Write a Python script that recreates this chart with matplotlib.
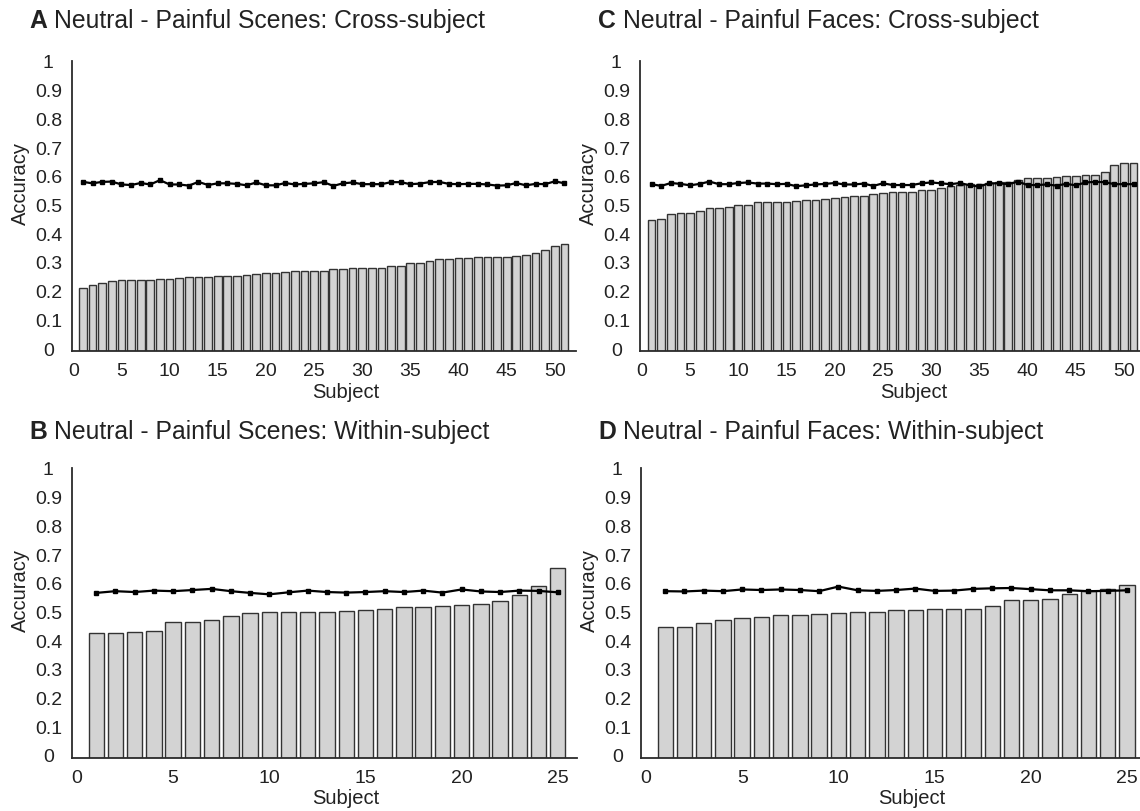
import matplotlib
matplotlib.use("Agg")
import matplotlib.pyplot as plt
import matplotlib.transforms as mtransforms
import numpy as np

plt.rcParams['font.family'] = ['Liberation Sans', 'DejaVu Sans']

# ---------------- data ----------------
subjects_cross = list(range(1, 52))
subjects_within = list(range(1, 26))

scenes_cross_acc = [0.218, 0.230, 0.237, 0.244, 0.247, 0.247, 0.249, 0.249, 0.250, 0.252,
                    0.254, 0.258, 0.258, 0.259, 0.261, 0.261, 0.262, 0.266, 0.267, 0.273,
                    0.273, 0.275, 0.278, 0.279, 0.280, 0.280, 0.285, 0.287, 0.288, 0.290,
                    0.290, 0.290, 0.297, 0.297, 0.305, 0.305, 0.314, 0.321, 0.321, 0.324,
                    0.324, 0.326, 0.328, 0.329, 0.329, 0.331, 0.336, 0.341, 0.353, 0.367, 0.372]
scenes_cross_chance = [0.589, 0.584, 0.589, 0.590, 0.580, 0.578, 0.585, 0.580, 0.595, 0.580,
                       0.580, 0.576, 0.589, 0.578, 0.584, 0.584, 0.582, 0.577, 0.587, 0.577,
                       0.577, 0.585, 0.580, 0.582, 0.584, 0.588, 0.575, 0.584, 0.587, 0.581,
                       0.581, 0.581, 0.588, 0.588, 0.581, 0.583, 0.588, 0.589, 0.582, 0.581,
                       0.582, 0.582, 0.580, 0.576, 0.577, 0.585, 0.577, 0.582, 0.581, 0.591, 0.584]

faces_cross_acc = [0.456, 0.460, 0.477, 0.479, 0.482, 0.487, 0.497, 0.498, 0.503, 0.510,
                   0.510, 0.518, 0.518, 0.520, 0.520, 0.523, 0.525, 0.525, 0.528, 0.532,
                   0.537, 0.541, 0.541, 0.546, 0.551, 0.553, 0.553, 0.555, 0.559, 0.561,
                   0.567, 0.573, 0.578, 0.581, 0.583, 0.584, 0.587, 0.589, 0.596, 0.602,
                   0.603, 0.604, 0.605, 0.609, 0.610, 0.613, 0.613, 0.624, 0.649, 0.655, 0.656]
faces_cross_chance = [0.581, 0.575, 0.585, 0.582, 0.577, 0.582, 0.590, 0.581, 0.581, 0.585,
                      0.587, 0.583, 0.583, 0.581, 0.582, 0.574, 0.577, 0.580, 0.582, 0.585,
                      0.580, 0.580, 0.583, 0.575, 0.584, 0.578, 0.578, 0.578, 0.584, 0.587,
                      0.584, 0.581, 0.585, 0.577, 0.573, 0.584, 0.584, 0.581, 0.590, 0.578,
                      0.578, 0.580, 0.576, 0.582, 0.577, 0.587, 0.589, 0.588, 0.581, 0.581, 0.581]

scenes_within_acc = [0.434, 0.437, 0.438, 0.443, 0.472, 0.472, 0.481, 0.494, 0.504, 0.509,
                     0.509, 0.509, 0.509, 0.512, 0.516, 0.519, 0.526, 0.527, 0.528, 0.532,
                     0.535, 0.547, 0.566, 0.598, 0.662]
scenes_within_chance = [0.575, 0.581, 0.578, 0.583, 0.581, 0.585, 0.589, 0.581, 0.575, 0.570,
                        0.577, 0.583, 0.578, 0.576, 0.578, 0.581, 0.578, 0.583, 0.576, 0.587,
                        0.580, 0.578, 0.583, 0.582, 0.577]

faces_within_acc = [0.455, 0.456, 0.469, 0.479, 0.489, 0.491, 0.498, 0.499, 0.501, 0.506,
                    0.508, 0.509, 0.516, 0.516, 0.519, 0.519, 0.519, 0.528, 0.549, 0.552,
                    0.554, 0.570, 0.583, 0.590, 0.602]
faces_within_chance = [0.581, 0.580, 0.583, 0.581, 0.587, 0.585, 0.587, 0.585, 0.581, 0.597,
                       0.584, 0.582, 0.585, 0.590, 0.582, 0.583, 0.589, 0.591, 0.592, 0.588,
                       0.584, 0.584, 0.581, 0.582, 0.584]

panel_letters = ['A', 'B', 'C', 'D']
panel_titles = ['Neutral - Painful Scenes: Cross-subject',
                'Neutral - Painful Scenes: Within-subject',
                'Neutral - Painful Faces: Cross-subject',
                'Neutral - Painful Faces: Within-subject']
x_ticks_cross = [0, 5, 10, 15, 20, 25, 30, 35, 40, 45, 50]
x_ticks_within = [0, 5, 10, 15, 20, 25]
y_ticks = [0, 0.1, 0.2, 0.3, 0.4, 0.5, 0.6, 0.7, 0.8, 0.9, 1]
y_tick_labels = ['0', '0.1', '0.2', '0.3', '0.4', '0.5', '0.6', '0.7', '0.8', '0.9', '1']

# ---------------- figure ----------------
W, H = 1140, 812
fig = plt.figure(figsize=(W / 100, H / 100), dpi=100)

def px_axes(l, t, r, b):
    return fig.add_axes([l / W, 1 - b / H, (r - l) / W, (b - t) / H])

SPINE = '#2b2b2b'
BAR_FACE = '#d3d3d3'
BAR_EDGE = '#333333'
TXT = '#222222'
TITLE_SIZE = 17.8

panels = [
    (0, (72, 62, 576, 352), (-0.13, 52.2), subjects_cross, scenes_cross_acc, scenes_cross_chance, x_ticks_cross, (29, 28), 346),
    (1, (72, 469, 577, 759), (-0.26, 26.0), subjects_within, scenes_within_acc, scenes_within_chance, x_ticks_within, (29, 439), 346),
    (2, (640, 62, 1140, 352), (-0.2, 51.66), subjects_cross, faces_cross_acc, faces_cross_chance, x_ticks_cross, (598, 28), 914),
    (3, (641, 469, 1140, 759), (-0.26, 25.68), subjects_within, faces_within_acc, faces_within_chance, x_ticks_within, (598, 439), 912),
]

renderer = fig.canvas.get_renderer()

for idx, box, xlim, subj, acc, chance, xt, tpos, xlab_x in panels:
    l, t, r, b = box
    ax = px_axes(l, t, r, b)
    ax.bar(subj, acc, width=0.8, color=BAR_FACE, edgecolor=BAR_EDGE, linewidth=1.0, zorder=2)
    ax.plot(subj, chance, color='black', linewidth=1.6, marker='s', markersize=2.6,
            markerfacecolor='black', markeredgecolor='black', zorder=3, clip_on=False)
    ax.set_xlim(*xlim)
    ax.set_ylim(0, 1.01)
    ax.set_xticks(xt)
    ax.set_xticklabels([str(v) for v in xt])
    ax.set_yticks(y_ticks)
    ax.set_yticklabels(y_tick_labels)
    for s in ['top', 'right']:
        ax.spines[s].set_visible(False)
    for s in ['left', 'bottom']:
        ax.spines[s].set_color(SPINE)
        ax.spines[s].set_linewidth(1.3)
    ax.tick_params(axis='both', length=0, labelsize=14, colors=TXT)
    ax.tick_params(axis='x', pad=8)
    ax.tick_params(axis='y', pad=17)
    off = mtransforms.ScaledTranslation(0, 3 / 100, fig.dpi_scale_trans)
    for lab in ax.get_yticklabels():
        lab.set_horizontalalignment('center')
        lab.set_transform(lab.get_transform() + off)
    ax.set_facecolor('none')
    ax.set_xlabel('Subject', fontsize=14.5, color=TXT)
    ax.xaxis.set_label_coords((xlab_x - l) / (r - l), -40 / (b - t))
    ax.xaxis.label.set_verticalalignment('center')
    ax.set_ylabel('Accuracy', fontsize=14.5, color=TXT)
    ax.yaxis.set_label_coords(-52 / (r - l), 0.58)
    ax.yaxis.label.set_verticalalignment('center')

    # panel title: bold letter + normal text, sharing one baseline
    tb = fig.text(tpos[0] / W, 1 - tpos[1] / H, panel_letters[idx], fontsize=TITLE_SIZE,
                  fontweight='bold', color=TXT, ha='left', va='baseline')
    bb = tb.get_window_extent(renderer=renderer)
    space_px = 0.278 * TITLE_SIZE * 100 / 72
    fig.text((bb.x1 + space_px) / W, 1 - tpos[1] / H, panel_titles[idx], fontsize=TITLE_SIZE,
             color=TXT, ha='left', va='baseline')

fig.savefig('out.png', dpi=100)
